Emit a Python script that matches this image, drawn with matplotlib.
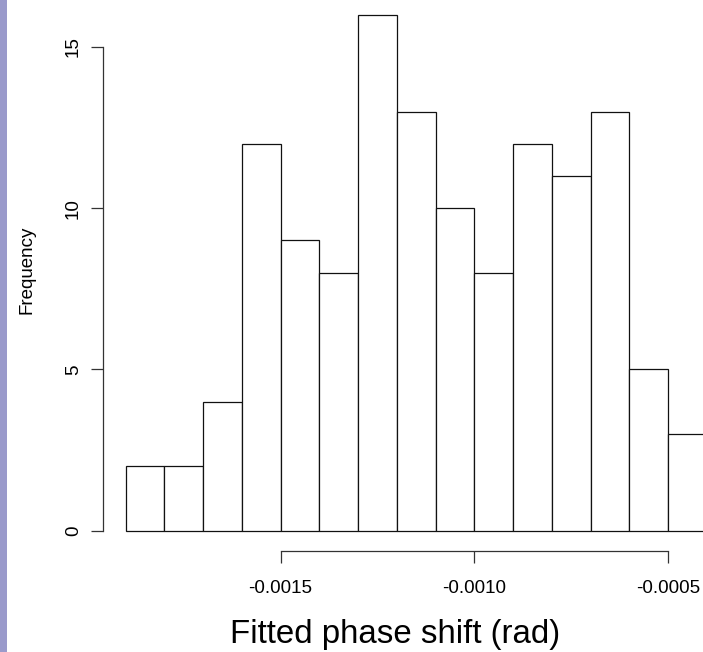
import matplotlib
matplotlib.use("Agg")
import matplotlib.pyplot as plt
from matplotlib.patches import Rectangle

plt.rcParams['font.family'] = ['Liberation Sans', 'DejaVu Sans']

# histogram data
bin_left = [-0.0019, -0.0018, -0.0017, -0.0016, -0.0015, -0.0014, -0.0013, -0.0012,
            -0.0011, -0.0010, -0.0009, -0.0008, -0.0007, -0.0006, -0.0005]
bin_width = 0.0001
counts = [2, 2, 4, 12, 9, 8, 16, 13, 10, 8, 12, 11, 13, 5, 3]

x_ticks = [-0.0015, -0.0010, -0.0005]
x_tick_labels = ["-0.0015", "-0.0010", "-0.0005"]
y_ticks = [0, 5, 10, 15]

W, H = 703, 652
fig = plt.figure(figsize=(W / 100, H / 100), dpi=100)
fig.patch.set_facecolor("white")

# lavender strip on the left edge
fig.patches.append(Rectangle((0, 0), 7.5 / W, 1, transform=fig.transFigure,
                             facecolor="#9a9acb", edgecolor="none", zorder=0))

ax = fig.add_axes([103 / W, (H - 551) / H, 600 / W, 551 / H])
ax.patch.set_alpha(0)
ax.bar(bin_left, counts, width=bin_width, align="edge",
       color="white", edgecolor="#111111", linewidth=0.9)

ax.set_xlim(-0.0019581, -0.0004097)
ax.set_ylim(-0.636, 16.46)

for side in ["top", "right"]:
    ax.spines[side].set_visible(False)
ax.spines["left"].set_bounds(0, 15)
ax.spines["bottom"].set_bounds(-0.0015, -0.0005)
for side in ["left", "bottom"]:
    ax.spines[side].set_linewidth(0.9)
    ax.spines[side].set_color("#333333")

ax.set_xticks(x_ticks)
ax.set_xticklabels(x_tick_labels)
ax.set_yticks(y_ticks)
ax.set_yticklabels([str(v) for v in y_ticks], rotation=90, va="center")

ax.tick_params(axis="both", direction="out", length=8.6, width=0.9, labelsize=13.6,
               color="#333333")
ax.tick_params(axis="x", pad=12)
ax.tick_params(axis="y", pad=6.6)

fig.text(27 / W, 1 - 270 / H, "Frequency", rotation=90, ha="center", va="center", fontsize=13.5)
fig.text(395 / W, 1 - 634 / H, "Fitted phase shift (rad)", ha="center", va="center", fontsize=23.8)

fig.savefig("out.png", dpi=100)
